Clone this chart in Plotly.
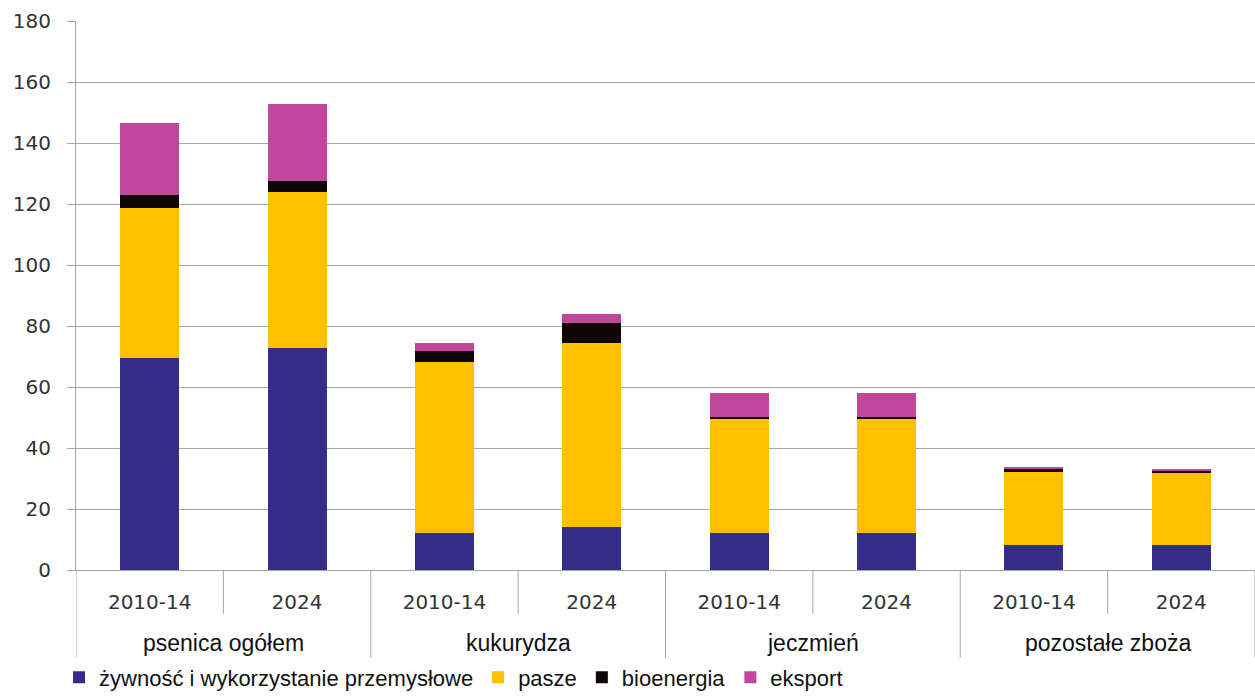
import plotly.graph_objects as go

# Categories: crop groups and periods
groups = ["psenica ogółem", "kukurydza", "jeczmień", "pozostałe zboża"]
periods = ["2010-14", "2024"]

# Utilisation by use (mln t), one value per group/period bar
food_industrial = [69.5, 72.8, 12.1, 14.1, 12.1, 12.2, 8.2, 8.2]
feed = [49.2, 51.1, 56.1, 60.3, 37.7, 37.6, 23.9, 23.6]
bioenergy = [4.3, 3.6, 3.6, 6.6, 0.5, 0.5, 1.3, 0.7]
export = [23.6, 25.3, 2.6, 2.9, 7.8, 7.8, 0.2, 0.3]

series_names = ["żywność i wykorzystanie przemysłowe", "pasze", "bioenergia", "eksport"]
series_colors = ["#342D87", "#FFC000", "#100808", "#C2479C"]

y_ticks = [0, 20, 40, 60, 80, 100, 120, 140, 160, 180]

tick_labels = [p for _ in groups for p in periods]
positions = list(range(len(tick_labels)))

GRID = "#A6A6A6"
TICK_FONT = dict(family="DejaVu Sans, Verdana", size=20, color="#333333")
LABEL_FONT = dict(family="Liberation Sans, Arial", size=23, color="#111111")

fig = go.Figure()
for name, vals, col in zip(series_names, [food_industrial, feed, bioenergy, export], series_colors):
    fig.add_trace(go.Bar(
        x=positions, y=vals, name=name, width=0.4,
        marker=dict(color=col, line=dict(width=0)),
    ))

# Category separators below the axis: short between periods, long between groups
n = len(tick_labels)
per = len(periods)
for i in range(n + 1):
    long_line = i % per == 0
    fig.add_shape(
        type="line", xref="x", yref="paper",
        x0=i - 0.5, x1=i - 0.5, y0=0, y1=-0.160 if long_line else -0.080,
        line=dict(color=GRID, width=1),
    )

# Group labels under the period labels
for g, name in enumerate(groups):
    fig.add_annotation(
        x=g * per + (per - 1) / 2, y=-0.133, xref="x", yref="paper",
        text=name, showarrow=False, yanchor="middle",
        font=LABEL_FONT,
    )

fig.update_layout(
    width=1255, height=699,
    margin=dict(l=76, r=0, t=21, b=129, autoexpand=False),
    paper_bgcolor="white", plot_bgcolor="white",
    barmode="stack",
    showlegend=True,
    legend=dict(
        orientation="h", x=-0.0144, xanchor="left", y=-0.234, yanchor="bottom",
        font=dict(family="Liberation Sans, Arial", size=22, color="#111111"),
        itemwidth=30, traceorder="normal",
        bgcolor="rgba(0,0,0,0)",
    ),
    xaxis=dict(
        range=[-0.5, n - 0.5],
        tickvals=positions, ticktext=tick_labels,
        showgrid=False, zeroline=False,
        showline=True, linecolor=GRID, linewidth=1,
        ticks="", tickfont=TICK_FONT, ticklabelstandoff=14,
    ),
    yaxis=dict(
        range=[0, 180], tickvals=y_ticks,
        showgrid=True, gridcolor=GRID, gridwidth=1,
        zeroline=False,
        showline=True, linecolor=GRID, linewidth=1,
        ticks="outside", ticklen=8, tickcolor=GRID,
        tickfont=TICK_FONT, ticklabelstandoff=12,
    ),
)

fig.write_html("out.html")
